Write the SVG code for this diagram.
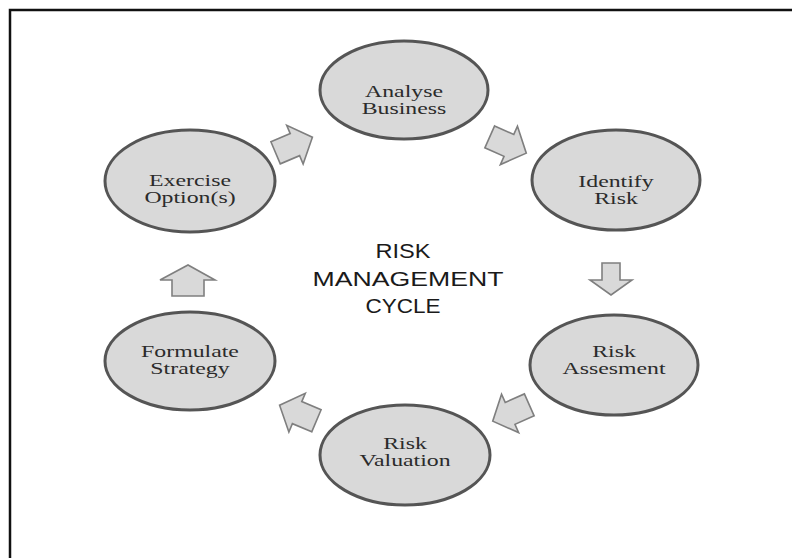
<svg xmlns="http://www.w3.org/2000/svg" width="792" height="558" viewBox="0 0 792 558">
  <style>
    .node { fill: #d9d9d9; stroke: #555555; stroke-width: 3; }
    .lbl { font-family: "Liberation Serif", "Times New Roman", serif; font-size: 17px; fill: #2b2b2b; text-anchor: middle; }
    .title { font-family: "Liberation Sans", Arial, sans-serif; font-size: 21px; fill: #1a1a1a; text-anchor: middle; }
    .arrow { fill: #d9d9d9; stroke: #7f7f7f; stroke-width: 1.6; stroke-linejoin: miter; }
  </style>
  <defs>
    <!-- block arrow pointing along +x, centred on the origin -->
    <polygon id="blk" points="-20,-12 1,-12 1,-21 20,0 1,21 1,12 -20,12"/>
  </defs>
  <rect width="792" height="558" fill="#ffffff"/>
  <!-- frame: only the top and left edges fall inside the canvas -->
  <path d="M10,558 V10 H792" fill="none" stroke="#111111" stroke-width="2.5"/>

  <g id="connectors">
    <use href="#blk" class="arrow" transform="translate(294,145) rotate(-23)"/>
    <use href="#blk" class="arrow" transform="translate(508,145) rotate(24)"/>
    <polygon class="arrow" points="602,263 620,263 620,280 632,280 611,295 590,280 602,280"/>
    <use href="#blk" class="arrow" transform="translate(511,413) rotate(156)"/>
    <use href="#blk" class="arrow" transform="translate(298,413) rotate(-157)"/>
    <polygon class="arrow" points="172,296 204,296 204,280 215,280 188,265 160,280 172,280"/>
  </g>

  <g id="analyse-business">
    <ellipse class="node" cx="404" cy="90" rx="84" ry="49"/>
    <g transform="translate(404,97) scale(1.4,1)"><text class="lbl">Analyse</text></g>
    <g transform="translate(404,114) scale(1.4,1)"><text class="lbl">Business</text></g>
  </g>
  <g id="identify-risk">
    <ellipse class="node" cx="616" cy="180" rx="84" ry="50"/>
    <g transform="translate(616,187) scale(1.4,1)"><text class="lbl">Identify</text></g>
    <g transform="translate(616,204) scale(1.4,1)"><text class="lbl">Risk</text></g>
  </g>
  <g id="risk-assesment">
    <ellipse class="node" cx="614" cy="365" rx="84" ry="50"/>
    <g transform="translate(614,357) scale(1.4,1)"><text class="lbl">Risk</text></g>
    <g transform="translate(614,374) scale(1.4,1)"><text class="lbl">Assesment</text></g>
  </g>
  <g id="risk-valuation">
    <ellipse class="node" cx="405" cy="455" rx="85" ry="50"/>
    <g transform="translate(405,449) scale(1.4,1)"><text class="lbl">Risk</text></g>
    <g transform="translate(405,466) scale(1.4,1)"><text class="lbl">Valuation</text></g>
  </g>
  <g id="formulate-strategy">
    <ellipse class="node" cx="190" cy="361" rx="85" ry="49"/>
    <g transform="translate(190,357) scale(1.4,1)"><text class="lbl">Formulate</text></g>
    <g transform="translate(190,374) scale(1.4,1)"><text class="lbl">Strategy</text></g>
  </g>
  <g id="exercise-options">
    <ellipse class="node" cx="190" cy="181" rx="85" ry="51"/>
    <g transform="translate(190,186) scale(1.4,1)"><text class="lbl">Exercise</text></g>
    <g transform="translate(190,203) scale(1.4,1)"><text class="lbl">Option(s)</text></g>
  </g>

  <g id="cycle-title">
    <text class="title" x="403" y="258" textLength="55" lengthAdjust="spacingAndGlyphs">RISK</text>
    <text class="title" x="408" y="286" textLength="191" lengthAdjust="spacingAndGlyphs">MANAGEMENT</text>
    <text class="title" x="403" y="313" textLength="75" lengthAdjust="spacingAndGlyphs">CYCLE</text>
  </g>
</svg>
